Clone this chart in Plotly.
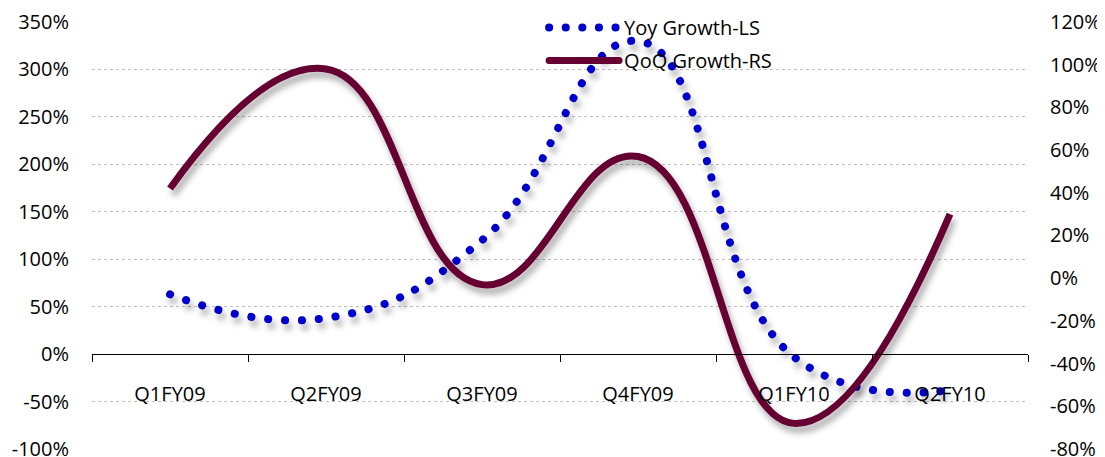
import plotly.graph_objects as go

categories = ["Q1FY09", "Q2FY09", "Q3FY09", "Q4FY09", "Q1FY10", "Q2FY10"]
yoy_growth = [63, 38, 120, 330, -3, -38]     # left axis, %
qoq_growth = [42, 98, -3, 57, -68, 30]       # right axis, %
left_ticks = [-100, -50, 0, 50, 100, 150, 200, 250, 300, 350]
right_ticks = [-80, -60, -40, -20, 0, 20, 40, 60, 80, 100, 120]
left_ticktext = [f"{v}%" for v in left_ticks]
right_ticktext = [f"{v}%" for v in right_ticks]

FONT = "Open Sans"
BLUE = "#0000CC"
MAROON = "#660033"

fig = go.Figure()

fig.add_trace(go.Scatter(
    x=categories, y=yoy_growth, name="Yoy Growth-LS",
    xaxis="x", yaxis="y", mode="lines",
    line=dict(color=BLUE, width=8, dash="8px,9px", shape="spline", smoothing=1.3),
    legendgroup="a",
))
fig.add_trace(go.Scatter(
    x=categories, y=qoq_growth, name="QoQ Growth-RS",
    xaxis="x", yaxis="y2", mode="lines",
    line=dict(color=MAROON, width=7, shape="spline", smoothing=1.3),
    legendgroup="b",
))

# page body adds an 8px offset, so the figure is drawn 8px in from the corner
W, H = 1105, 457
top_px = 14            # plot top (figure coords)
plot_bottom = 441      # plot bottom (figure coords)
bot_margin = H - plot_bottom
paper_h = H - bot_margin
ydom = [0, (plot_bottom - top_px) / paper_h]
axis_pos = ydom[1] * 100 / 450    # 0% level on the left axis

fig.update_layout(
    width=W, height=H, autosize=False,
    margin=dict(l=84, r=W - 1020, t=0, b=bot_margin, autoexpand=False),
    paper_bgcolor="white", plot_bgcolor="white",
    font=dict(family=FONT, size=20, color="black"),
    showlegend=True,
    legend=dict(
        x=0.483, y=1.0, xanchor="left", yanchor="top",
        bgcolor="rgba(0,0,0,0)", font=dict(size=20),
        traceorder="grouped", tracegroupgap=4, itemwidth=70,
    ),
    xaxis=dict(
        type="category", range=[-0.5, 5.5], anchor="free", position=axis_pos,
        showline=True, linecolor="black", linewidth=1,
        ticks="outside", ticklen=7, tickcolor="black", tickwidth=1,
        tickson="boundaries", showgrid=False, zeroline=False,
        ticklabelstandoff=22, automargin=False,
    ),
    xaxis2=dict(
        range=[-0.5, 5.5], overlaying="x", anchor="free", position=axis_pos,
        tickvals=[-0.5, 0.5, 1.5, 2.5, 3.5, 4.5, 5.5],
        showline=False, ticks="inside", ticklen=7, tickcolor="black", tickwidth=1,
        showgrid=False, zeroline=False, showticklabels=False, automargin=False,
    ),
    yaxis=dict(
        domain=ydom, range=[-100.01, 350], tickvals=left_ticks, ticktext=left_ticktext,
        showgrid=True, gridcolor="#BFBFBF", griddash="dot", gridwidth=1,
        zeroline=False, showline=False, ticks="", ticklabelstandoff=22, automargin=False,
    ),
    yaxis2=dict(
        range=[-80.005, 120], tickvals=right_ticks, ticktext=right_ticktext,
        overlaying="y", side="right", anchor="x",
        showgrid=False, zeroline=False, showline=False, ticks="", ticklabelstandoff=21,
        automargin=False,
    ),
)

post = """
var gd = document.getElementById('{plot_id}');
function styleLines(){
  gd.querySelectorAll('.scatterlayer .js-line').forEach(function(p){
    p.style.filter = 'drop-shadow(3px 6px 3px rgba(0,0,0,0.32))';
    if ((p.style.stroke || '').indexOf('204') >= 0) {
      p.style.strokeLinecap = 'round';
      p.style.strokeDasharray = '0.1px,16.8px';
    }
  });
  gd.querySelectorAll('.legendlines path').forEach(function(p){
    p.style.strokeLinecap = 'round';
    if ((p.style.stroke || '').indexOf('204') >= 0) {
      p.style.strokeDasharray = '0.1px,16.5px';
    }
  });
}
styleLines();
gd.on('plotly_afterplot', styleLines);
"""

fig.write_html("out.html", post_script=post)
